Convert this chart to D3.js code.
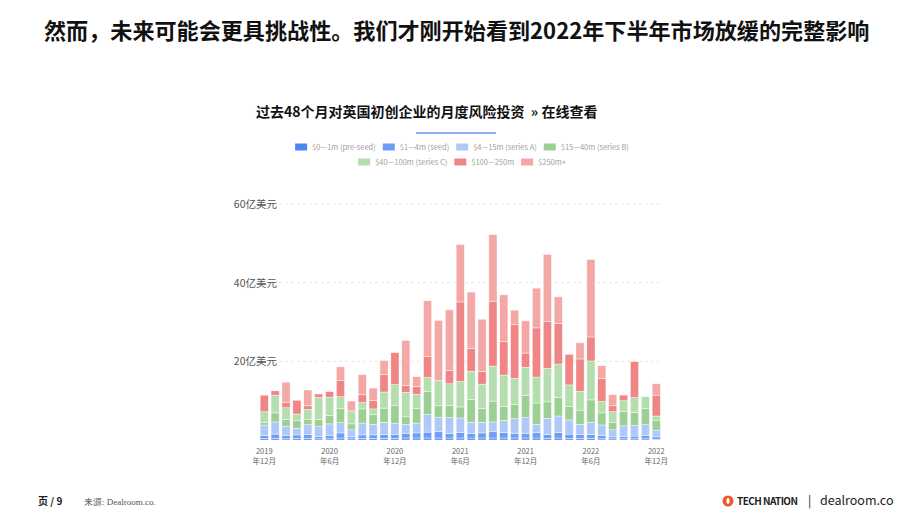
<!DOCTYPE html>
<html>
<head>
<meta charset="utf-8">
<script src="https://cdn.jsdelivr.net/npm/d3@7"></script>
<style>
  body { margin: 0; background: #fff; }
  svg text { font-family: "Noto Sans CJK SC", "Noto Sans", sans-serif; }
</style>
</head>
<body>
<div id="chart"></div>
<script>
// months Dec 2019 .. Dec 2022
const months = d3.range(37).map(i => "m" + i);

// tick labels (index into months, two lines)
const tickLabels = [
    {i: 0, l1: "2019", l2: "年12月"},
    {i: 6, l1: "2020", l2: "年6月"},
    {i: 12, l1: "2020", l2: "年12月"},
    {i: 18, l1: "2021", l2: "年6月"},
    {i: 24, l1: "2021", l2: "年12月"},
    {i: 30, l1: "2022", l2: "年6月"},
    {i: 36, l1: "2022", l2: "年12月"}
];

const yTicks = [20, 40, 60];

// values in 亿美元, bottom to top
const preSeed = [0.4,0.4,0.3,0.4,0.4,0.3,0.3,0.5,0.3,0.4,0.4,0.4,0.4,0.5,0.5,0.5,0.5,0.5,0.5,0.5,0.5,0.5,0.5,0.5,0.5,0.5,0.4,0.5,0.4,0.4,0.4,0.3,0.3,0.3,0.3,0.3,0.2];
const seed = [0.7,1.1,0.8,0.9,1.0,0.6,0.8,1.3,0.5,0.9,0.9,1.0,1.0,1.2,1.3,1.5,1.6,1.2,1.4,1.2,1.3,1.6,1.4,1.2,1.2,1.4,1.0,1.4,1.1,1.0,1.0,0.8,0.5,0.6,0.7,0.8,0.6];
const seriesA = [2.7,3.1,2.4,1.7,2.5,2.5,3.0,2.6,1.8,3.0,2.7,3.1,2.8,2.3,2.5,4.5,3.7,4.0,3.7,2.8,2.7,2.5,3.1,3.7,4.0,2.1,4.1,4.2,3.6,2.6,3.1,2.7,1.8,2.7,2.7,2.8,1.7];
const seriesB = [0.6,2.3,1.7,1.9,1.4,1.8,2.1,3.6,1.5,3.6,2.5,3.6,4.5,1.9,3.7,5.8,2.9,3.1,2.8,5.8,3.5,5.3,3.5,3.6,5.6,5.4,4.2,4.7,3.4,3.6,5.7,3.1,1.8,3.6,3.3,4.1,2.4];
const seriesC = [2.8,4.5,3.0,1.7,2.5,5.6,4.7,3.0,3.3,1.6,1.4,4.1,5.4,6.2,3.6,3.6,6.4,5.5,6.5,7.2,6.2,8.9,8.0,6.7,7.2,6.6,8.5,8.5,5.5,4.8,9.9,2.9,2.8,2.8,3.8,3.0,1.2];
const m100 = [4.2,1.1,1.4,3.5,0.9,0.9,1.4,4.2,0,2.0,2.2,4.5,8.1,1.7,2.0,5.4,0,3.4,20.2,5.8,3.2,16.5,8.5,13.6,3.6,12.5,11.9,10.3,7.8,8.2,6.1,5.8,1.5,1.4,9.1,0,5.3];
const m250 = [0,0,5.1,0,4.0,0,0,3.4,2.5,5.1,3.1,3.5,0,11.5,2.5,14.1,15.3,15.4,14.6,14.3,13.3,16.9,11.9,3.7,8.2,10.1,17.1,6.8,0,4.1,19.7,3.3,2.8,0,0,0,2.9];

const seriesNames = ["$0\u20141m (pre-seed)", "$1\u20144m (seed)", "$4\u201415m (series A)", "$15\u201440m (series B)",
    "$40\u2014100m (series C)", "$100\u2014250m", "$250m+"];
const seriesColors = ["#4d86ee", "#6f9df4", "#aec8fa", "#9ccf93", "#b4dead", "#ef8584", "#f3a8a6"];
const seriesData = [preSeed, seed, seriesA, seriesB, seriesC, m100, m250];

const W = 920, H = 518;
const svg = d3.select("#chart").append("svg")
    .attr("width", W)
    .attr("height", H);

// heading
svg.append("text")
    .attr("x", 44)
    .attr("y", 39)
    .attr("font-size", 22.1)
    .attr("font-weight", 700)
    .attr("fill", "#111")
    .text("然而，未来可能会更具挑战性。我们才刚开始看到2022年下半年市场放缓的完整影响");

// chart title
svg.append("text")
    .attr("x", 256)
    .attr("y", 117)
    .attr("font-size", 14)
    .attr("font-weight", 700)
    .attr("fill", "#111")
    .attr("xml:space", "preserve")
    .text("过去48个月对英国初创企业的月度风险投资  » 在线查看");

svg.append("line")
    .attr("x1", 416).attr("x2", 496)
    .attr("y1", 133).attr("y2", 133)
    .attr("stroke", "#8eb0f6")
    .attr("stroke-width", 2);

// legend
const legendRows = [[0, 1, 2, 3], [4, 5, 6]];
const legendY = [147, 162];
legendRows.forEach((row, r) => {
    const g = svg.append("g");
    let x = 0;
    row.forEach(si => {
        const item = g.append("g").attr("transform", "translate(" + x + ",0)");
        item.append("rect")
            .attr("x", 0).attr("y", -3.5)
            .attr("width", 12).attr("height", 7)
            .attr("fill", seriesColors[si]);
        const t = item.append("text")
            .attr("x", 17).attr("y", 3)
            .attr("font-size", 7.5)
            .attr("fill", "#a0a0a0")
            .text(seriesNames[si]);
        x += 17 + t.node().getComputedTextLength() + 7;
    });
    const w = x - 7;
    g.attr("transform", "translate(" + (462 - w / 2) + "," + legendY[r] + ")");
});

// scales
const x = d3.scaleBand()
    .domain(months)
    .range([258.8, 661.7])
    .paddingInner(0.25)
    .paddingOuter(0.125);

const y = d3.scaleLinear()
    .domain([0, 60])
    .range([440, 204]);

// gridlines + y labels
const yAxis = svg.append("g");
yTicks.forEach(t => {
    yAxis.append("line")
        .attr("x1", 279).attr("x2", 662)
        .attr("y1", y(t)).attr("y2", y(t))
        .attr("stroke", "#e6e6e6")
        .attr("stroke-dasharray", "3,3");
    yAxis.append("text")
        .attr("x", 277)
        .attr("y", y(t) + 4)
        .attr("text-anchor", "end")
        .attr("font-size", 10.5)
        .attr("fill", "#555")
        .text(t + "亿美元");
});

// stacked bars
const table = months.map((m, i) => {
    const row = {month: m};
    seriesData.forEach((s, k) => row["s" + k] = s[i]);
    return row;
});
const stack = d3.stack().keys(seriesData.map((s, k) => "s" + k));
const layers = stack(table);

svg.append("g").selectAll("g")
    .data(layers)
    .join("g")
    .attr("fill", (d, k) => seriesColors[k])
    .selectAll("rect")
    .data(d => d.filter(p => p[1] - p[0] > 0))
    .join("rect")
    .attr("x", d => x(d.data.month))
    .attr("width", x.bandwidth())
    .attr("y", d => y(d[1]))
    .attr("height", d => y(d[0]) - y(d[1]))
    .attr("stroke", "#fff")
    .attr("stroke-opacity", 0.7)
    .attr("stroke-width", 0.6);

// x labels
const xl = svg.append("g");
tickLabels.forEach(t => {
    const cx = x(months[t.i]) + x.bandwidth() / 2;
    xl.append("text")
        .attr("x", cx).attr("y", 454)
        .attr("text-anchor", "middle")
        .attr("font-size", 7.5)
        .attr("fill", "#666")
        .text(t.l1);
    xl.append("text")
        .attr("x", cx).attr("y", 464)
        .attr("text-anchor", "middle")
        .attr("font-size", 7.5)
        .attr("fill", "#666")
        .text(t.l2);
});

// footer
svg.append("text")
    .attr("x", 38).attr("y", 505)
    .attr("font-size", 10)
    .attr("font-weight", 700)
    .attr("fill", "#222")
    .text("页 / 9");

svg.append("text")
    .attr("x", 84).attr("y", 505)
    .attr("font-size", 9)
    .attr("fill", "#555")
    .style("font-family", "'Liberation Serif', 'DejaVu Serif', serif")
    .text("来源: Dealroom.co.");

svg.append("circle")
    .attr("cx", 728).attr("cy", 501)
    .attr("r", 5.5)
    .attr("fill", "#f05a28");
svg.append("ellipse")
    .attr("cx", 728).attr("cy", 501)
    .attr("rx", 1.6).attr("ry", 3)
    .attr("fill", "#fff");

svg.append("text")
    .attr("x", 737).attr("y", 505)
    .attr("font-size", 10)
    .attr("font-weight", 700)
    .attr("fill", "#222")
    .attr("textLength", 61)
    .text("TECH NATION");

svg.append("text")
    .attr("x", 808).attr("y", 505)
    .attr("font-size", 12)
    .attr("fill", "#222")
    .text("|");

svg.append("text")
    .attr("x", 820).attr("y", 505)
    .attr("font-size", 12.5)
    .attr("fill", "#222")
    .text("dealroom.co");
</script>
</body>
</html>
